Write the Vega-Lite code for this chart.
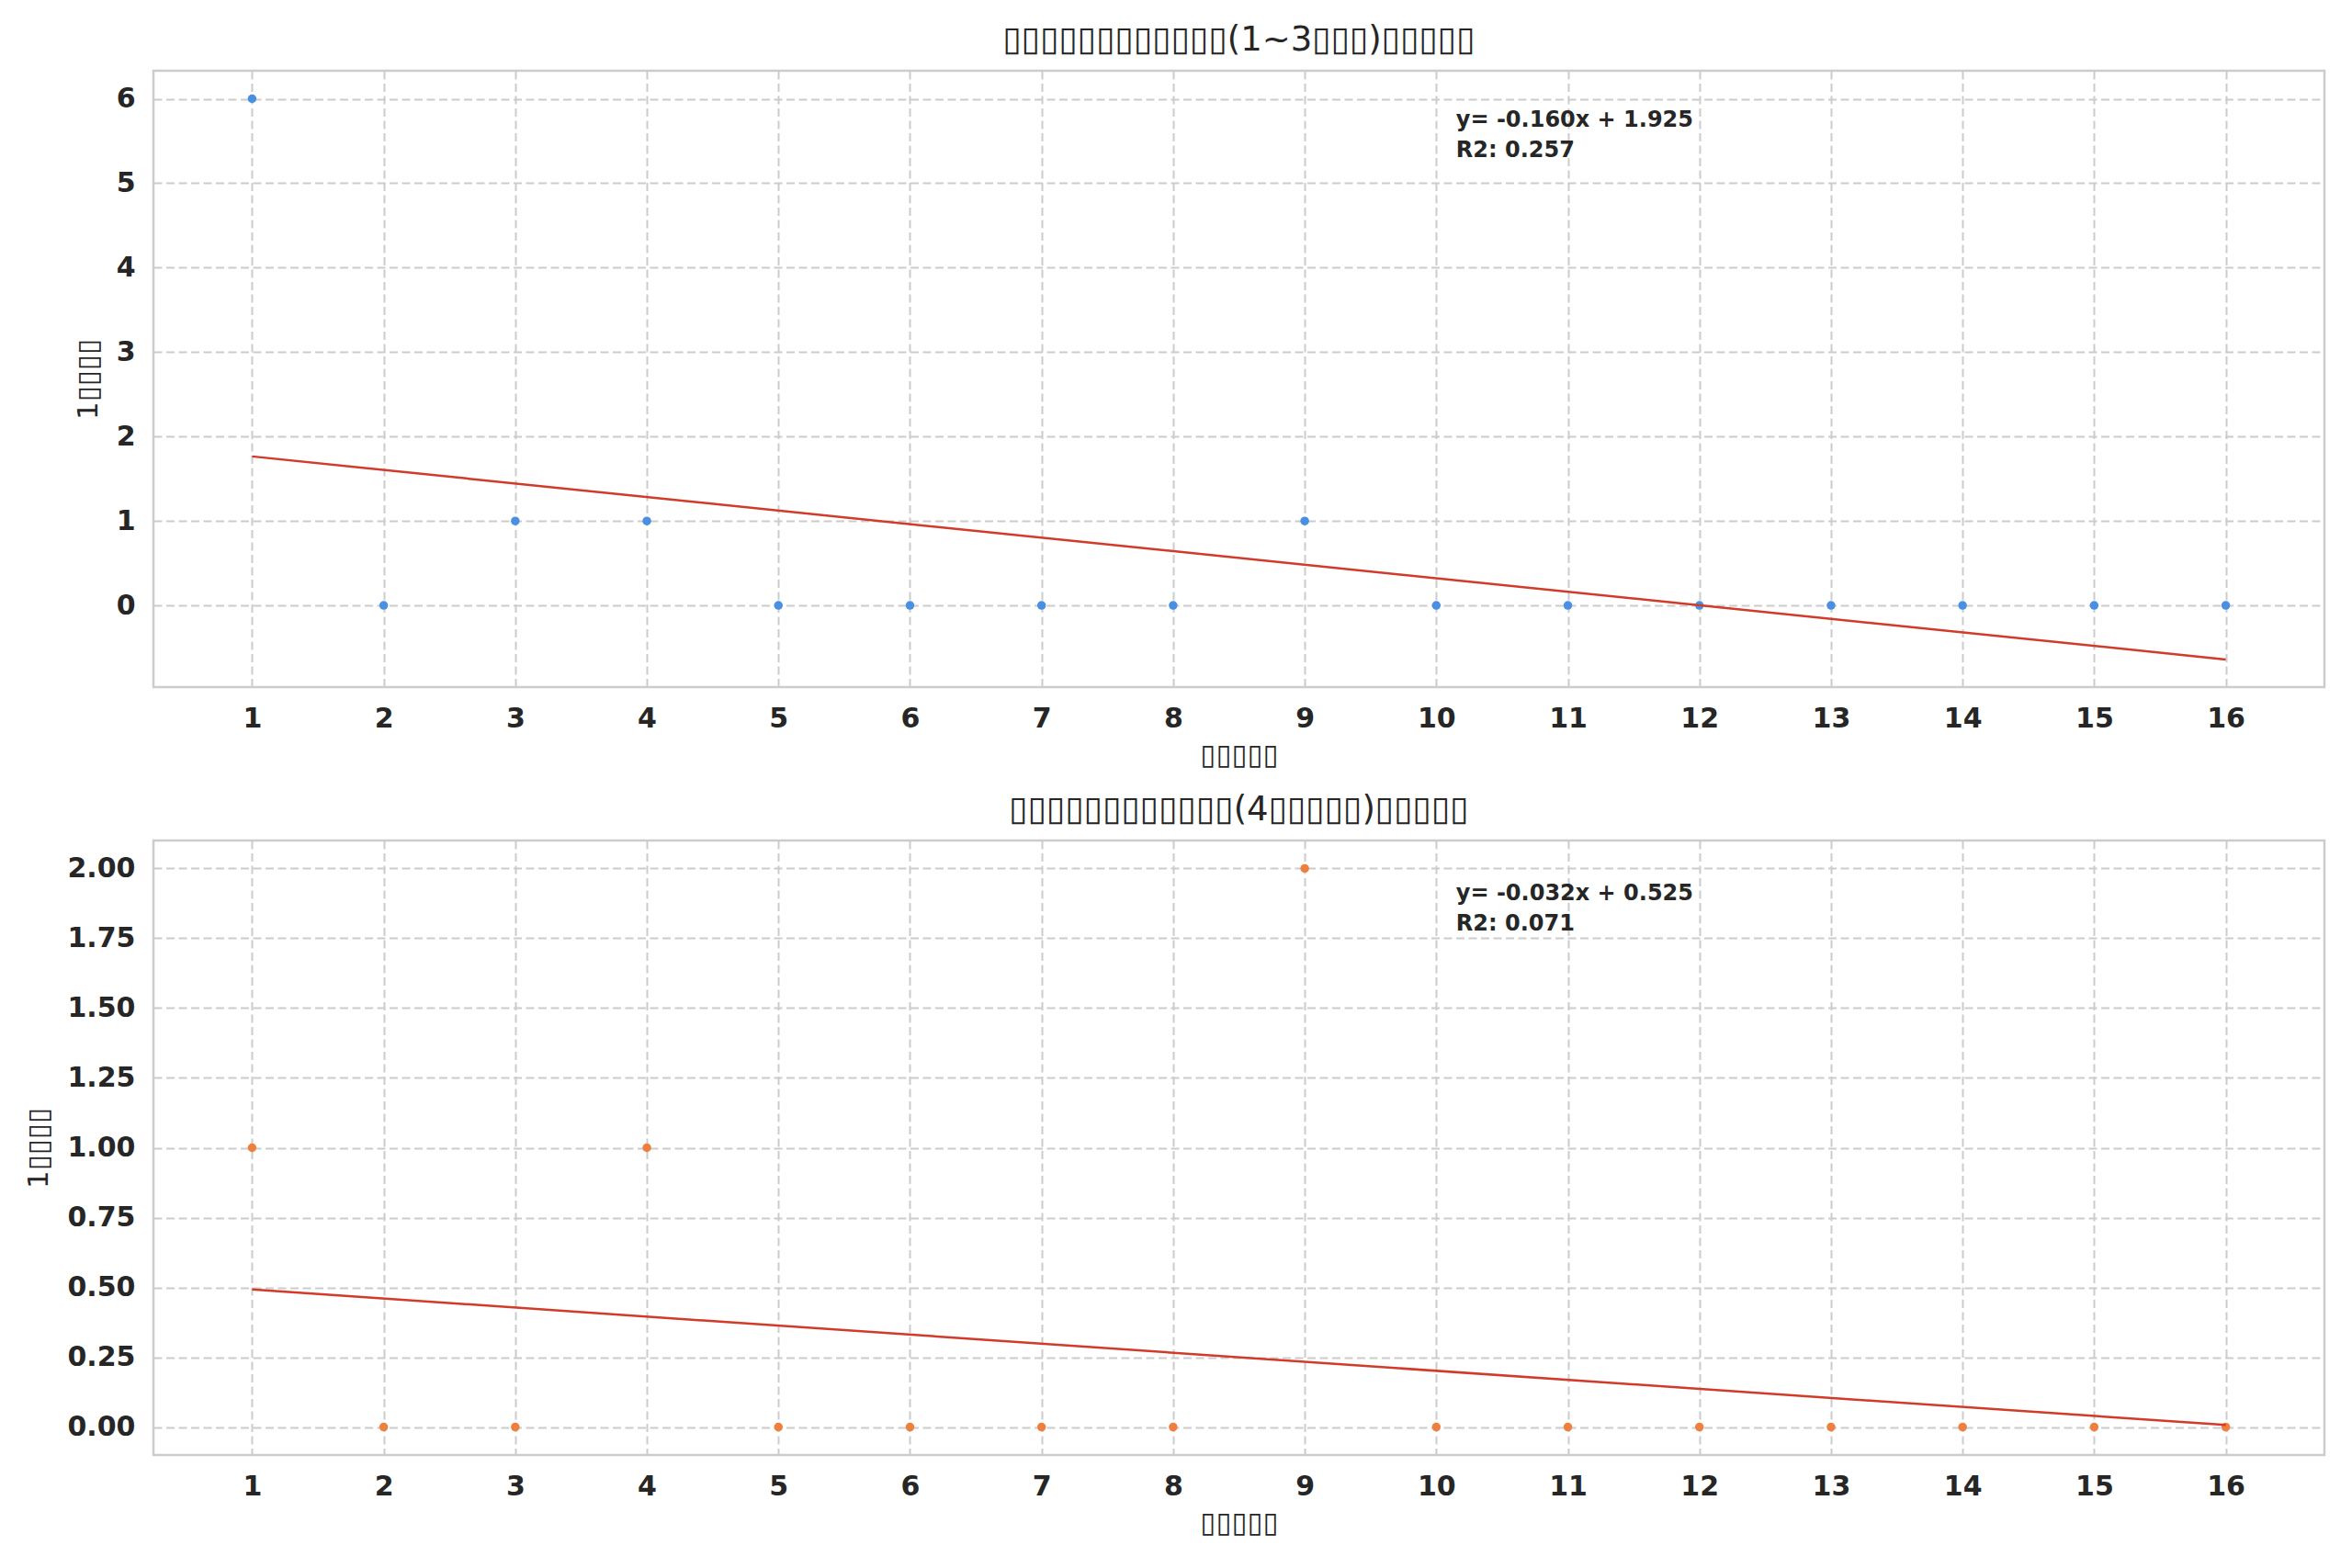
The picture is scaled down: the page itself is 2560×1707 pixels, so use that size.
{
  "$schema": "https://vega.github.io/schema/vega-lite/v6.json",
  "background": "white",
  "padding": {"left": 25, "top": 23, "right": 30, "bottom": 28},
  "spacing": 22,
  "config": {
    "font": "DejaVu Sans",
    "view": {"stroke": "#cccccc", "strokeWidth": 2.5},
    "axis": {
      "grid": true,
      "gridColor": "#cccccc",
      "gridDash": [9, 4.5],
      "gridWidth": 2,
      "domain": false,
      "ticks": false,
      "labelFont": "DejaVu Sans",
      "labelFontWeight": "bold",
      "labelFontSize": 30,
      "labelColor": "#262626",
      "titleFont": "DejaVu Sans",
      "titleFontWeight": "normal",
      "titleFontSize": 31,
      "titleColor": "#262626"
    },
    "axisX": {"titlePadding": 10, "labelPadding": 19},
    "axisY": {"titlePadding": 14, "labelPadding": 20},
    "title": {"font": "DejaVu Sans", "fontSize": 37, "fontWeight": "normal", "color": "#262626", "offset": 14}
  },
  "vconcat": [
    {
      "width": 2363,
      "height": 671,
      "title": "▯▯▯▯▯▯▯▯▯▯▯▯(1~3▯▯▯)▯▯▯▯▯",
      "data": {
        "values": [
          {"x": 1, "y": 6}, {"x": 2, "y": 0}, {"x": 3, "y": 1}, {"x": 4, "y": 1},
          {"x": 5, "y": 0}, {"x": 6, "y": 0}, {"x": 7, "y": 0}, {"x": 8, "y": 0},
          {"x": 9, "y": 1}, {"x": 10, "y": 0}, {"x": 11, "y": 0}, {"x": 12, "y": 0},
          {"x": 13, "y": 0}, {"x": 14, "y": 0}, {"x": 15, "y": 0}, {"x": 16, "y": 0}
        ]
      },
      "layer": [
        {
          "mark": {"type": "point", "filled": true, "size": 90, "color": "#4a90e2", "opacity": 1},
          "encoding": {
            "x": {
              "field": "x", "type": "quantitative",
              "scale": {"domain": [0.25, 16.75], "nice": false, "zero": false},
              "axis": {"values": [1, 2, 3, 4, 5, 6, 7, 8, 9, 10, 11, 12, 13, 14, 15, 16], "format": "d", "title": "▯▯▯▯▯"}
            },
            "y": {
              "field": "y", "type": "quantitative",
              "scale": {"domain": [-0.967, 6.332], "nice": false, "zero": false},
              "axis": {"values": [0, 1, 2, 3, 4, 5, 6], "format": "d", "title": "1▯▯▯▯"}
            }
          }
        },
        {
          "transform": [{"regression": "y", "on": "x"}],
          "mark": {"type": "line", "color": "#d13b2a", "strokeWidth": 2.5},
          "encoding": {
            "x": {"field": "x", "type": "quantitative"},
            "y": {"field": "y", "type": "quantitative"}
          }
        },
        {
          "data": {"values": [{"label": "y= -0.160x + 1.925\nR2: 0.257"}]},
          "mark": {"type": "text", "align": "left", "baseline": "top", "fontWeight": "bold", "fontSize": 24, "lineHeight": 33, "lineBreak": "\n", "color": "#262626"},
          "encoding": {
            "x": {"datum": 10.15},
            "y": {"datum": 5.88},
            "text": {"field": "label"}
          }
        }
      ]
    },
    {
      "width": 2363,
      "height": 669,
      "title": "▯▯▯▯▯▯▯▯▯▯▯▯(4▯▯▯▯▯)▯▯▯▯▯",
      "data": {
        "values": [
          {"x": 1, "y": 1}, {"x": 2, "y": 0}, {"x": 3, "y": 0}, {"x": 4, "y": 1},
          {"x": 5, "y": 0}, {"x": 6, "y": 0}, {"x": 7, "y": 0}, {"x": 8, "y": 0},
          {"x": 9, "y": 2}, {"x": 10, "y": 0}, {"x": 11, "y": 0}, {"x": 12, "y": 0},
          {"x": 13, "y": 0}, {"x": 14, "y": 0}, {"x": 15, "y": 0}, {"x": 16, "y": 0}
        ]
      },
      "layer": [
        {
          "mark": {"type": "point", "filled": true, "size": 90, "color": "#ee7f3f", "opacity": 1},
          "encoding": {
            "x": {
              "field": "x", "type": "quantitative",
              "scale": {"domain": [0.25, 16.75], "nice": false, "zero": false},
              "axis": {"values": [1, 2, 3, 4, 5, 6, 7, 8, 9, 10, 11, 12, 13, 14, 15, 16], "format": "d", "title": "▯▯▯▯▯"}
            },
            "y": {
              "field": "y", "type": "quantitative",
              "scale": {"domain": [-0.1, 2.1], "nice": false, "zero": false},
              "axis": {"values": [0, 0.25, 0.5, 0.75, 1, 1.25, 1.5, 1.75, 2], "format": ".2f", "title": "1▯▯▯▯"}
            }
          }
        },
        {
          "transform": [{"regression": "y", "on": "x"}],
          "mark": {"type": "line", "color": "#d13b2a", "strokeWidth": 2.5},
          "encoding": {
            "x": {"field": "x", "type": "quantitative"},
            "y": {"field": "y", "type": "quantitative"}
          }
        },
        {
          "data": {"values": [{"label": "y= -0.032x + 0.525\nR2: 0.071"}]},
          "mark": {"type": "text", "align": "left", "baseline": "top", "fontWeight": "bold", "fontSize": 24, "lineHeight": 33, "lineBreak": "\n", "color": "#262626"},
          "encoding": {
            "x": {"datum": 10.15},
            "y": {"datum": 1.95},
            "text": {"field": "label"}
          }
        }
      ]
    }
  ]
}
